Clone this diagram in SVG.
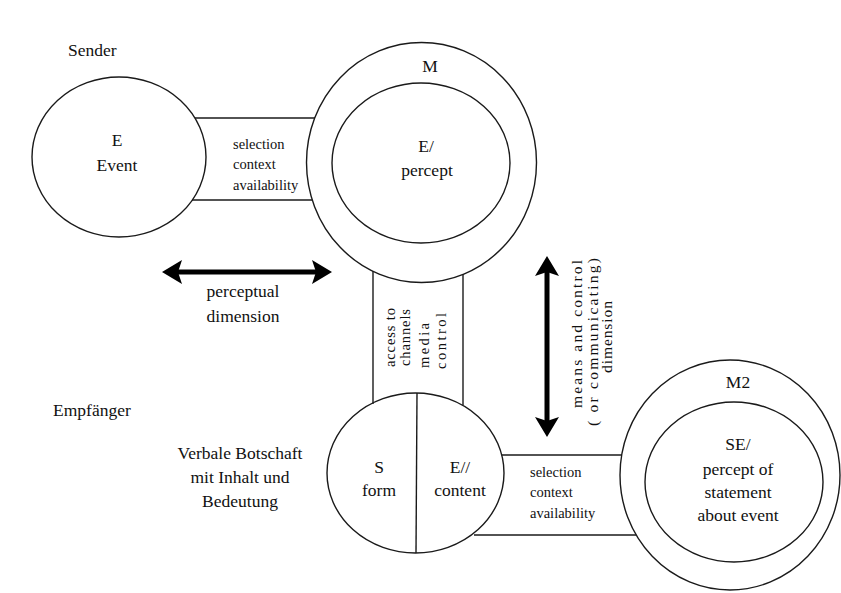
<svg xmlns="http://www.w3.org/2000/svg" width="841" height="593" viewBox="0 0 841 593">
<defs>
<style>
.ln{fill:none;stroke:#1a1a1a;stroke-width:1.4}
.big{font-family:"Liberation Serif","Times New Roman",serif;font-size:17.5px;fill:#111;text-anchor:middle}
.lab{font-family:"Liberation Serif","Times New Roman",serif;font-size:17.5px;fill:#111}
.sm{font-family:"Liberation Serif","Times New Roman",serif;font-size:14.5px;fill:#111}
.vt{font-family:"Liberation Serif","Times New Roman",serif;font-size:15.5px;fill:#111;text-anchor:middle}
.arr{stroke:#000;stroke-width:5;fill:none}
</style>
<marker id="head" markerUnits="userSpaceOnUse" markerWidth="22" markerHeight="26" viewBox="0 0 22 26" refX="10" refY="13" orient="auto-start-reverse">
<path d="M0,1 L20,13 L0,25 L4,13 Z" fill="#000"/>
</marker>
</defs>
<rect width="841" height="593" fill="#fff"/>

<g id="connectors">
<line class="ln" x1="195" y1="118" x2="315" y2="118"/>
<line class="ln" x1="192" y1="200" x2="312" y2="200"/>
<line class="ln" x1="373" y1="271" x2="373" y2="404"/>
<line class="ln" x1="463" y1="274" x2="463" y2="405"/>
<line class="ln" x1="502" y1="455" x2="622" y2="455"/>
<line class="ln" x1="474" y1="535" x2="636" y2="535"/>
<line class="arr" x1="172" y1="272" x2="322" y2="272" marker-start="url(#head)" marker-end="url(#head)"/>
<line class="arr" x1="547" y1="266" x2="547" y2="427" marker-start="url(#head)" marker-end="url(#head)"/>
</g>

<g id="band-top">
<text class="sm" x="233" y="149">selection</text>
<text class="sm" x="233" y="169">context</text>
<text class="sm" x="233" y="190">availability</text>
</g>

<g id="band-vertical">
<text class="sm" transform="translate(395,367) rotate(-90)" textLength="59" lengthAdjust="spacing">access to</text>
<text class="sm" transform="translate(410,366) rotate(-90)" textLength="57" lengthAdjust="spacing">channels</text>
<text class="sm" transform="translate(429,368) rotate(-90)" textLength="45" lengthAdjust="spacing">media</text>
<text class="sm" transform="translate(446,369) rotate(-90)" textLength="56" lengthAdjust="spacing">control</text>
</g>

<g id="band-bottom">
<text class="sm" x="530" y="477">selection</text>
<text class="sm" x="530" y="497">context</text>
<text class="sm" x="530" y="518">availability</text>
</g>

<g id="node-E">
<ellipse class="ln" cx="119" cy="157" rx="87" ry="80"/>
<text class="big" x="117" y="146">E</text>
<text class="big" x="117" y="171">Event</text>
</g>

<g id="node-M">
<ellipse class="ln" cx="421.5" cy="162.5" rx="115" ry="120"/>
<ellipse class="ln" cx="421" cy="163" rx="89" ry="80"/>
<text class="big" x="430" y="72">M</text>
<text class="big" x="426" y="152">E/</text>
<text class="big" x="427" y="176">percept</text>
</g>

<g id="node-S">
<ellipse class="ln" cx="415.5" cy="473" rx="88.5" ry="80"/>
<line class="ln" x1="417" y1="393" x2="416" y2="553"/>
<text class="big" x="379" y="473">S</text>
<text class="big" x="379" y="496">form</text>
<text class="big" x="460" y="473">E//</text>
<text class="big" x="460" y="496">content</text>
</g>

<g id="node-M2">
<ellipse class="ln" cx="730" cy="475" rx="110" ry="115"/>
<ellipse class="ln" cx="734" cy="482" rx="89" ry="80"/>
<text class="big" x="738" y="388">M2</text>
<text class="big" x="738" y="450">SE/</text>
<text class="big" x="738" y="475">percept of</text>
<text class="big" x="738" y="498">statement</text>
<text class="big" x="738" y="521">about event</text>
</g>

<g id="labels">
<text class="lab" x="68" y="56">Sender</text>
<text class="lab" x="53" y="416">Empfänger</text>
<text class="big" x="240" y="459">Verbale Botschaft</text>
<text class="big" x="240" y="483">mit Inhalt und</text>
<text class="big" x="240" y="507">Bedeutung</text>
<text class="big" x="243" y="297">perceptual</text>
<text class="big" x="243" y="322">dimension</text>
<text class="vt" transform="translate(582,334) rotate(-90)" textLength="148" lengthAdjust="spacing">means and control</text>
<text class="vt" transform="translate(598,342) rotate(-90)" textLength="168" lengthAdjust="spacing">( or communicating)</text>
<text class="vt" transform="translate(612,337) rotate(-90)" textLength="72" lengthAdjust="spacing">dimension</text>
</g>
</svg>
